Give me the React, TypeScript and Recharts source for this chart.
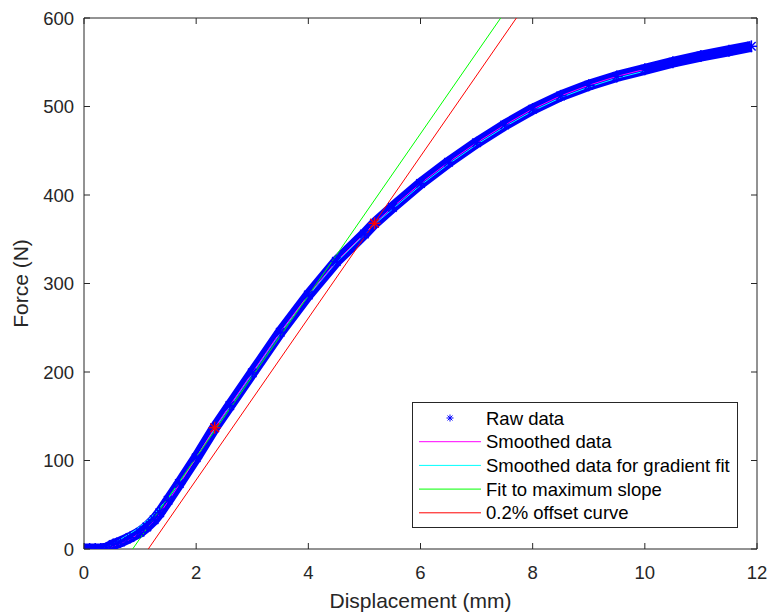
import React from "react";
import { LineChart, Line, XAxis, YAxis, ReferenceArea, Legend } from "recharts";

// raw test data (blue asterisks)
const rawX = [0, 0.1, 0.2, 0.3, 0.4, 0.52, 0.65, 0.82, 1.0, 1.12, 1.25, 1.35, 1.5, 1.7, 2.0, 2.33, 2.6, 3.0, 3.5, 4.0, 4.5, 5.0, 5.18, 5.5, 6.0, 6.5, 7.0, 7.5, 8.0, 8.5, 9.0, 9.5, 10.0, 10.5, 11.0, 11.5, 11.9];
const rawY = [0, 0, 0, 0, 1, 5, 8, 13, 19, 25, 33, 41, 55, 74, 103, 137, 162, 199, 245, 287, 325, 356, 368, 386, 413, 437, 459, 479, 497, 512, 524, 534, 542, 550, 557, 563, 568];

// smoothed data (magenta)
const smoothX = [0, 0.2, 0.4, 0.52, 0.65, 0.82, 1.0, 1.12, 1.25, 1.35, 1.5, 1.7, 2.0, 2.33, 2.6, 3.0, 3.5, 4.0, 4.5, 5.0, 5.18, 5.5, 6.0, 6.5, 7.0, 7.5, 8.0, 8.5, 9.0, 9.5, 10.0];
const smoothY = [0, 0, 0, 3, 6, 11, 18, 24, 32, 40, 54, 73, 103, 137, 162, 199, 245, 287, 325, 356, 368, 386, 413, 437, 459, 479, 497, 512, 524, 534, 542];

// smoothed data used for the gradient fit (cyan)
const gradX = [0.34, 0.6, 0.91, 1.2, 1.5, 1.7, 2.0, 2.33, 2.6, 3.0, 3.5, 4.0, 4.5, 5.0, 5.18, 5.5, 6.0, 6.5, 7.0, 7.5, 8.0, 8.5, 9.0, 9.5, 10.0];
const gradY = [0, 9, 21, 36, 57, 75, 103, 136, 161, 198, 244, 286, 324, 355, 367, 384, 411, 435, 457, 477, 495, 510, 522, 532, 540];

// straight lines
const fitX = [0.868, 7.43];
const fitY = [0, 600];
const offsetX = [1.146, 7.71];
const offsetY = [0, 600];

// points marked in red
const markX = [2.33, 5.18];
const markY = [137, 368];

const xTicks = [0, 2, 4, 6, 8, 10, 12];
const yTicks = [0, 100, 200, 300, 400, 500, 600];

const legendLabels = ["Raw data", "Smoothed data", "Smoothed data for gradient fit", "Fit to maximum slope", "0.2% offset curve"];
const legendColors = ["#0000ff", "#ff00ff", "#00ffff", "#00ff00", "#ff0000"];

const FONT = "'Liberation Sans', Arial, Helvetica, sans-serif";
const INK = "#262626";
const PLOT_TOP = 18;
const PLOT_RIGHT = 757;

const pts = (xs: number[], ys: number[]) => xs.map((x, i) => ({ x, y: ys[i] }));

function Star({ cx, cy, r, color, w = 1 }: { cx: number; cy: number; r: number; color: string; w?: number }) {
  const d = r * 0.7071;
  return (
    <g stroke={color} strokeWidth={w}>
      <line x1={cx - r} y1={cy} x2={cx + r} y2={cy} />
      <line x1={cx} y1={cy - r} x2={cx} y2={cy + r} />
      <line x1={cx - d} y1={cy - d} x2={cx + d} y2={cy + d} />
      <line x1={cx - d} y1={cy + d} x2={cx + d} y2={cy - d} />
    </g>
  );
}

const rawDot = (p: any) => <Star key={"r" + p.index} cx={p.cx} cy={p.cy} r={6} color="#0000ff" w={1.5} />;
const markDot = (p: any) => <Star key={"m" + p.index} cx={p.cx} cy={p.cy} r={6} color="#ff0000" w={1.3} />;

// inward ticks, drawn on both bottom and top edges
const BottomTick = (p: any) => (
  <g>
    <line x1={p.x} y1={p.y} x2={p.x} y2={p.y - 6} stroke={INK} />
    <line x1={p.x} y1={PLOT_TOP} x2={p.x} y2={PLOT_TOP + 6} stroke={INK} />
    <text x={p.x} y={p.y + 30} textAnchor="middle" fill={INK} fontSize={18.5} fontFamily={FONT}>
      {p.payload.value}
    </text>
  </g>
);
const LeftTick = (p: any) => (
  <g>
    <line x1={p.x} y1={p.y} x2={p.x + 6} y2={p.y} stroke={INK} />
    <line x1={PLOT_RIGHT} y1={p.y} x2={PLOT_RIGHT - 6} y2={p.y} stroke={INK} />
    <text x={p.x - 10} y={p.y + 6.5} textAnchor="end" fill={INK} fontSize={18.5} fontFamily={FONT}>
      {p.payload.value}
    </text>
  </g>
);

const LegendBox = () => (
  <svg width={326} height={126} style={{ display: "block" }}>
    <rect x={0.5} y={0.5} width={325} height={125} fill="#ffffff" stroke={INK} />
    {legendLabels.map((label, i) => {
      const cy = 16 + i * 23.7;
      return (
        <g key={label}>
          {i === 0 ? (
            <Star cx={38} cy={cy} r={3.5} color={legendColors[i]} />
          ) : (
            <line x1={7} y1={cy} x2={69} y2={cy} stroke={legendColors[i]} />
          )}
          <text x={74} y={cy + 6.5} fontSize={18.5} fontFamily={FONT} fill="#000">
            {label}
          </text>
        </g>
      );
    })}
  </svg>
);

export default function App() {
  return (
    <div style={{ position: "absolute", left: 0, top: 0, width: 771, height: 613, background: "#fff" }}>
      <LineChart width={771} height={613} margin={{ top: PLOT_TOP, right: 14, bottom: 0, left: 0 }}>
        <XAxis
          dataKey="x"
          type="number"
          domain={[0, 12]}
          ticks={xTicks}
          interval={0}
          height={64}
          axisLine={false}
          tickLine={false}
          tickSize={0}
          tickMargin={0}
          tick={BottomTick}
          allowDataOverflow
          label={{
            content: (props: any) => {
              const vb = props.viewBox || { x: 84, y: 549, width: 673, height: 64 };
              return (
                <text x={vb.x + vb.width / 2} y={vb.y + 59} textAnchor="middle" fontSize={21} fontFamily={FONT} fill={INK}>
                  Displacement (mm)
                </text>
              );
            },
          }}
        />
        <YAxis
          type="number"
          domain={[0, 600]}
          ticks={yTicks}
          interval={0}
          width={84}
          axisLine={false}
          tickLine={false}
          tickSize={0}
          tickMargin={0}
          tick={LeftTick}
          allowDataOverflow
          label={{
            content: (props: any) => {
              const vb = props.viewBox || { x: 0, y: 18, width: 84, height: 531 };
              const cx = vb.x + 28;
              const cy = vb.y + vb.height / 2;
              return (
                <text x={cx} y={cy} transform={`rotate(-90 ${cx} ${cy})`} textAnchor="middle" fontSize={21} fontFamily={FONT} fill={INK}>
                  Force (N)
                </text>
              );
            },
          }}
        />
        <ReferenceArea x1={0} x2={12} y1={0} y2={600} fill="none" stroke={INK} strokeWidth={1} />
        <Line data={pts(rawX, rawY)} dataKey="y" stroke="#0000ff" strokeWidth={11} strokeLinejoin="round" dot={rawDot} activeDot={false} isAnimationActive={false} legendType="none" />
        <Line data={pts(gradX, gradY)} dataKey="y" stroke="#00ffff" strokeWidth={1} dot={false} activeDot={false} isAnimationActive={false} legendType="none" />
        <Line data={pts(smoothX, smoothY)} dataKey="y" stroke="#ff00ff" strokeWidth={1} dot={false} activeDot={false} isAnimationActive={false} legendType="none" />
        <Line data={pts(fitX, fitY)} dataKey="y" stroke="#00ff00" strokeWidth={1} dot={false} activeDot={false} isAnimationActive={false} legendType="none" />
        <Line data={pts(offsetX, offsetY)} dataKey="y" stroke="#ff0000" strokeWidth={1} dot={false} activeDot={false} isAnimationActive={false} legendType="none" />
        <Line data={pts(markX, markY)} dataKey="y" stroke="none" dot={markDot} activeDot={false} isAnimationActive={false} legendType="none" />
        <Legend
          layout="horizontal"
          verticalAlign="middle"
          align="center"
          content={LegendBox}
          wrapperStyle={{ left: 412, top: 402, width: 326, height: 126 }}
        />
      </LineChart>
    </div>
  );
}
